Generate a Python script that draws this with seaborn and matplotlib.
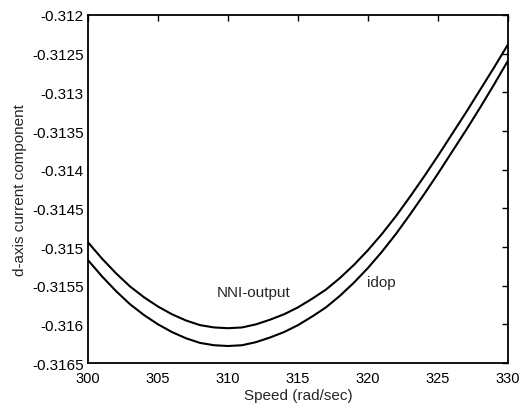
import matplotlib
matplotlib.use("Agg")
import matplotlib.pyplot as plt
import seaborn as sns
import pandas as pd
from matplotlib.ticker import FixedLocator, FixedFormatter

speed = list(range(300, 331))
nni_output = [-0.31494, -0.31515, -0.31534, -0.31551, -0.31565, -0.31577, -0.31587,
              -0.31595, -0.31601, -0.31604, -0.31605, -0.31604, -0.31600, -0.31594,
              -0.31587, -0.31578, -0.31567, -0.31555, -0.31540, -0.31523, -0.31504,
              -0.31483, -0.31460, -0.31435, -0.31409, -0.31382, -0.31354, -0.31326,
              -0.31297, -0.31268, -0.31238]
idop = [-0.31517, -0.31538, -0.31557, -0.31574, -0.31588, -0.31600, -0.31610,
        -0.31618, -0.31624, -0.31627, -0.31628, -0.31627, -0.31623, -0.31617,
        -0.31610, -0.31601, -0.31590, -0.31578, -0.31563, -0.31546, -0.31527,
        -0.31506, -0.31483, -0.31458, -0.31432, -0.31405, -0.31377, -0.31349,
        -0.31320, -0.31290, -0.31259]
xticks = [300, 305, 310, 315, 320, 325, 330]
yticks = [-0.312, -0.3125, -0.313, -0.3135, -0.314, -0.3145, -0.315, -0.3155, -0.316, -0.3165]
ytick_labels = ["-0.312", "-0.3125", "-0.313", "-0.3135", "-0.314", "-0.3145",
                "-0.315", "-0.3155", "-0.316", "-0.3165"]

sns.set_style("white")
plt.rcParams['font.family'] = ['Liberation Sans', 'DejaVu Sans']

df = pd.DataFrame({"speed": speed * 2,
                   "value": nni_output + idop,
                   "series": ["NNI-output"] * len(speed) + ["idop"] * len(speed)})

fig = plt.figure(figsize=(5.19, 4.06), dpi=100)
ax = fig.add_axes([0.1696, 0.1034, 0.8092, 0.8572])
sns.lineplot(data=df, x="speed", y="value", units="series", estimator=None,
             color="black", linewidth=1.5, ax=ax, legend=False)

ax.set_xlim(300, 330)
ax.set_ylim(-0.3165, -0.312)
ax.xaxis.set_major_locator(FixedLocator(xticks))
ax.set_xticklabels([str(t) for t in xticks])
ax.yaxis.set_major_locator(FixedLocator(yticks))
ax.yaxis.set_major_formatter(FixedFormatter(ytick_labels))
ax.tick_params(direction="in", length=4, width=1, top=True, right=True,
               labelsize=11, colors="black")
ax.tick_params(axis="x", pad=6, labelsize=10.5)
ax.tick_params(axis="y", pad=3)
for s in ax.spines.values():
    s.set_visible(True)
    s.set_color("black")
    s.set_linewidth(1.3)

ax.set_xlabel("Speed (rad/sec)", fontsize=11, labelpad=2)
ax.set_ylabel("d-axis current component", fontsize=11, labelpad=4)

ax.text(311.8, -0.31558, "NNI-output", fontsize=11, ha="center", va="center")
ax.text(319.9, -0.31545, "idop", fontsize=11, ha="left", va="center")

fig.savefig("out.png", dpi=100)
